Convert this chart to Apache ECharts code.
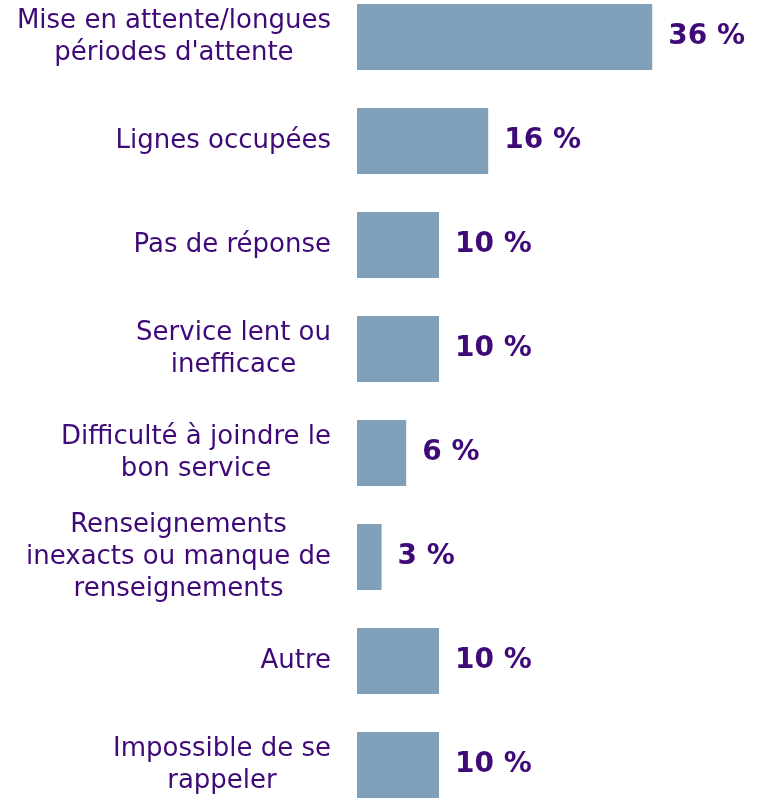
<!DOCTYPE html>
<html>
<head>
<meta charset="utf-8">
<script src="https://cdn.jsdelivr.net/npm/echarts@6/dist/echarts.min.js"></script>
<style>
  html, body { margin: 0; padding: 0; background: #fff; overflow: hidden; }
  body { width: 762px; height: 801px; position: relative; }
  #chart { position: absolute; left: 0; top: -15px; width: 762px; height: 832px; }
</style>
</head>
<body>
<div id="chart"></div>
<script>
// données
const categories = [
    "Mise en attente/longues\npériodes d'attente",
    'Lignes occupées',
    'Pas de réponse',
    'Service lent ou\ninefficace',
    'Difficulté à joindre le\nbon service',
    'Renseignements\ninexacts ou manque de\nrenseignements',
    'Autre',
    'Impossible de se\nrappeler'
];
const values = [36, 16, 10, 10, 6, 3, 10, 10];

const textColor = '#3f0a78';
const barColor = '#7fa0b8';

const chart = echarts.init(document.getElementById('chart'));

chart.setOption({
    backgroundColor: '#fff',
    animation: false,
    grid: { left: 357, right: 36, top: 0, bottom: 0, containLabel: false },
    xAxis: {
        type: 'value',
        min: 0,
        max: 45,
        show: false
    },
    yAxis: {
        type: 'category',
        data: categories,
        inverse: true,
        axisLine: { show: false },
        axisTick: { show: false },
        axisLabel: {
            margin: 26,
            formatter: (v) => '{c|' + v.split('\n').join('}\n{c|') + '}',
            rich: {
                c: {
                    align: 'center',
                    color: textColor,
                    fontFamily: 'DejaVu Sans',
                    fontSize: 26,
                    lineHeight: 32
                }
            }
        }
    },
    series: [{
        type: 'bar',
        data: values,
        barWidth: 66,
        itemStyle: { color: barColor },
        label: {
            show: true,
            position: 'right',
            distance: 16,
            formatter: '{c} %',
            color: textColor,
            fontFamily: 'DejaVu Sans',
            fontWeight: 'bold',
            fontSize: 28
        }
    }]
});
</script>
</body>
</html>
